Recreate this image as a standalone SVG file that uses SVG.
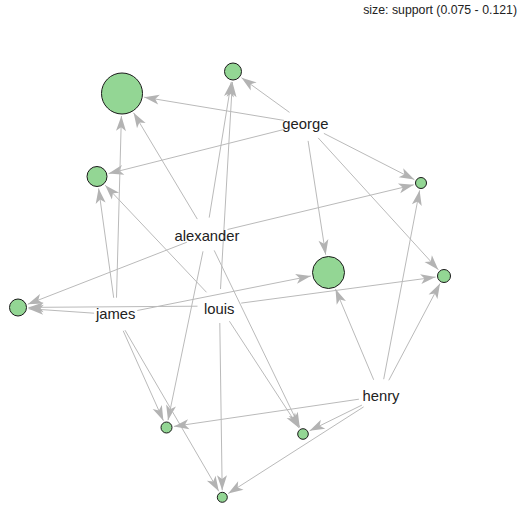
<svg xmlns="http://www.w3.org/2000/svg" width="518" height="506" viewBox="0 0 518 506">
<defs>
<style>
.e{stroke:#bababa;stroke-width:1;fill:none;marker-end:url(#ah)}
.r{fill:#93d694;stroke:#1a1a1a;stroke-width:1}
.lbl{font-family:"Liberation Sans",Arial,sans-serif;font-size:14.8px;fill:#222;text-anchor:middle}
.leg{font-family:"Liberation Sans",Arial,sans-serif;font-size:12.3px;fill:#222;text-anchor:end}
</style>
<marker id="ah" markerUnits="userSpaceOnUse" viewBox="0 0 16 10" markerWidth="16" markerHeight="10" refX="15" refY="5" orient="auto" overflow="visible">
<path d="M15,5 L0,0 L3.8,5 L0,10 Z" fill="#b3b3b3"/>
</marker>
</defs>
<rect width="518" height="506" fill="#fff"/>
<text class="leg" x="517" y="14">size: support (0.075 - 0.121)</text>
<g id="connectors">
<line class="e" x1="284.0" y1="120.4" x2="144.2" y2="97.2"/>
<line class="e" x1="289.5" y1="112.4" x2="241.5" y2="77.7"/>
<line class="e" x1="284.6" y1="129.3" x2="108.6" y2="173.6"/>
<line class="e" x1="323.9" y1="133.4" x2="414.3" y2="179.6"/>
<line class="e" x1="308.1" y1="140.9" x2="325.7" y2="254.7"/>
<line class="e" x1="318.2" y1="137.9" x2="438.3" y2="269.7"/>
<line class="e" x1="197.3" y1="219.1" x2="133.6" y2="112.8"/>
<line class="e" x1="209.2" y1="217.6" x2="231.3" y2="81.9"/>
<line class="e" x1="227.5" y1="229.5" x2="413.7" y2="184.8"/>
<line class="e" x1="186.9" y1="242.2" x2="27.8" y2="304.2"/>
<line class="e" x1="203.0" y1="251.3" x2="168.0" y2="420.2"/>
<line class="e" x1="214.2" y1="250.4" x2="299.8" y2="427.4"/>
<line class="e" x1="116.5" y1="297.7" x2="121.4" y2="116.0"/>
<line class="e" x1="113.7" y1="297.8" x2="98.6" y2="188.4"/>
<line class="e" x1="137.3" y1="310.5" x2="310.8" y2="276.0"/>
<line class="e" x1="94.1" y1="313.2" x2="28.5" y2="308.7"/>
<line class="e" x1="123.2" y1="330.8" x2="163.4" y2="420.7"/>
<line class="e" x1="125.0" y1="330.2" x2="218.8" y2="491.3"/>
<line class="e" x1="220.5" y1="289.0" x2="232.4" y2="82.0"/>
<line class="e" x1="206.5" y1="292.3" x2="105.2" y2="185.2"/>
<line class="e" x1="241.2" y1="303.1" x2="435.6" y2="277.1"/>
<line class="e" x1="197.5" y1="306.2" x2="28.5" y2="307.4"/>
<line class="e" x1="229.4" y1="321.2" x2="299.0" y2="427.9"/>
<line class="e" x1="219.8" y1="323.0" x2="222.2" y2="490.3"/>
<line class="e" x1="383.7" y1="379.2" x2="419.6" y2="190.4"/>
<line class="e" x1="373.7" y1="379.8" x2="335.5" y2="289.1"/>
<line class="e" x1="388.8" y1="380.3" x2="440.0" y2="283.5"/>
<line class="e" x1="358.9" y1="399.2" x2="173.9" y2="426.4"/>
<line class="e" x1="361.9" y1="405.1" x2="309.6" y2="430.8"/>
<line class="e" x1="363.6" y1="406.9" x2="228.2" y2="493.5"/>
</g>
<g id="rule1"><circle class="r" cx="122" cy="93.5" r="20.5"/></g>
<g id="rule2"><circle class="r" cx="233" cy="71.5" r="8.5"/></g>
<g id="rule3"><circle class="r" cx="97" cy="176.5" r="10"/></g>
<g id="rule4"><circle class="r" cx="421" cy="183" r="5.5"/></g>
<g id="rule5"><circle class="r" cx="328.5" cy="272.5" r="16"/></g>
<g id="rule6"><circle class="r" cx="444" cy="276" r="6.5"/></g>
<g id="rule7"><circle class="r" cx="18" cy="307.5" r="8.5"/></g>
<g id="rule8"><circle class="r" cx="166.5" cy="427.5" r="5.5"/></g>
<g id="rule9"><circle class="r" cx="303" cy="434" r="5.3"/></g>
<g id="rule10"><circle class="r" cx="222.3" cy="497.3" r="5"/></g>
<g id="item-george"><text class="lbl" x="305.4" y="128.5">george</text></g>
<g id="item-alexander"><text class="lbl" x="207" y="240.7">alexander</text></g>
<g id="item-james"><text class="lbl" x="115.7" y="318.5">james</text></g>
<g id="item-louis"><text class="lbl" x="219.2" y="313.7">louis</text></g>
<g id="item-henry"><text class="lbl" x="381" y="400.5">henry</text></g>
</svg>
